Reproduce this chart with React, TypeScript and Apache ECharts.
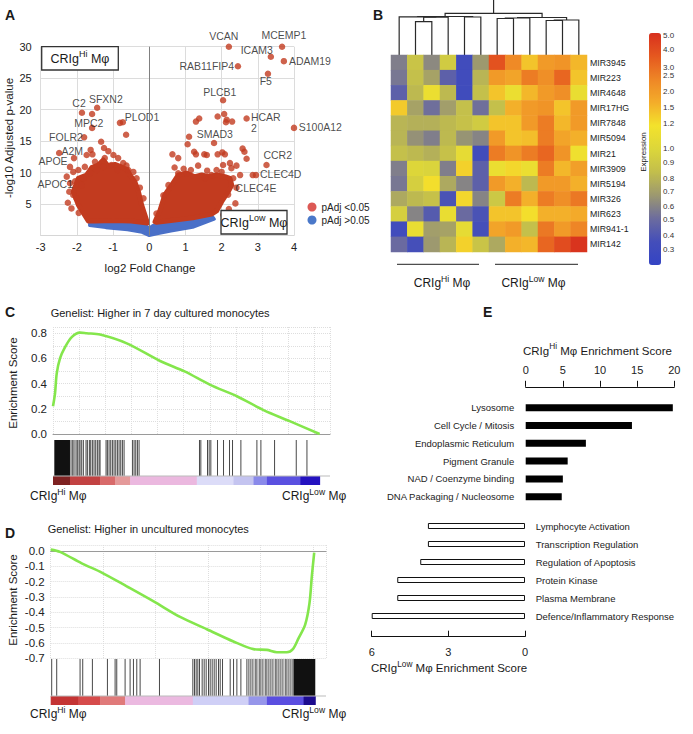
import React, { useEffect, useRef } from "react";
import * as echarts from "echarts";

const FONT = '"Liberation Sans", Arial, Helvetica, sans-serif';

// ---------------- Panel A : volcano ----------------
const volcanoRedPoints: number[][] = [
  [2.2, 30.0], [3.67, 30.0], [3.36, 28.4], [3.72, 27.7], [2.45, 26.9], [3.28, 25.7], [2.04, 21.5],
  [2.69, 18.6], [4.0, 17.1], [1.79, 14.7], [3.24, 11.2], [2.86, 9.6], [2.95, 9.6],
  [2.07, 19.3], [2.14, 18.4], [2.12, 18.0], [2.29, 18.1], [1.89, 18.9], [1.38, 18.6], [1.29, 18.1],
  [1.1, 15.7], [1.06, 14.5], [1.24, 13.3], [1.29, 12.9], [0.64, 12.9], [0.8, 12.3], [1.52, 12.9],
  [1.59, 12.8], [1.89, 12.9], [2.02, 13.2], [2.09, 12.9], [2.58, 13.8], [2.63, 13.3], [2.69, 12.2],
  [2.51, 9.6], [2.38, 5.1], [2.23, 11.5], [2.27, 10.7], [2.04, 11.2], [1.86, 10.4], [1.35, 11.1],
  [0.8, 9.9], [1.03, 9.8], [0.53, 8.0], [0.39, 6.4], [0.2, 3.5], [2.32, 9.1], [2.41, 7.6],
  [2.18, 6.5], [1.72, 9.6], [1.54, 9.1], [2.41, 11.1], [2.2, 4.2], [2.05, 3.3], [0.95, 10.6],
  [1.6, 10.3], [2.0, 10.1], [0.7, 10.8], [1.15, 10.4],
  [-1.86, 19.5], [-1.44, 20.3], [-1.58, 19.3], [-1.58, 17.1], [-0.81, 17.9], [-0.73, 18.0],
  [-0.64, 16.0], [-1.8, 15.6], [-1.33, 14.9], [-1.62, 13.6], [-1.25, 13.9], [-2.49, 13.1],
  [-2.08, 12.3], [-2.19, 10.9], [-1.73, 12.8], [-1.57, 12.9], [-1.13, 13.4], [-0.99, 12.8],
  [-0.86, 12.3], [-0.72, 11.5], [-0.63, 11.1], [-1.23, 12.3], [-1.37, 11.2], [-1.05, 11.2],
  [-1.5, 11.7], [-2.1, 10.1], [-1.96, 10.4], [-1.78, 10.9], [-2.28, 9.35], [-2.19, 8.3],
  [-2.05, 8.6], [-2.21, 6.96], [-2.1, 6.44], [-2.01, 5.9], [-1.87, 8.0], [-0.44, 10.1],
  [-0.35, 9.1], [-0.26, 7.6], [-0.16, 5.9], [-1.82, 9.1], [-1.63, 9.9], [-1.45, 10.4],
  [-1.27, 10.9], [-0.87, 10.4], [-0.58, 10.4], [-2.25, 5.2], [-2.15, 4.3], [-1.95, 3.6],
];
const volcanoLeftCloud: number[][] = [
  [-1.685, 2.3], [-1.96, 4.85], [-2.1, 6.96], [-1.96, 9.09], [-1.73, 9.61], [-1.59, 10.8],
  [-1.41, 11.2], [-1.27, 12.0], [-1.13, 11.0], [-0.95, 11.3], [-0.81, 11.0], [-0.62, 10.5],
  [-0.53, 9.6], [-0.4, 8.55], [-0.3, 6.96], [-0.21, 4.85], [-0.12, 3.26], [-0.05, 2.0],
  [-0.5, 2.3], [-1.0, 2.4], [-1.5, 2.3],
];
const volcanoRightCloud: number[][] = [
  [0.16, 2.2], [0.3, 4.05], [0.43, 6.44], [0.62, 8.02], [0.8, 9.61], [1.03, 9.88], [1.26, 9.34],
  [1.45, 9.61], [1.63, 9.34], [1.86, 9.61], [2.09, 9.34], [2.23, 9.09], [2.28, 8.02], [2.18, 6.96],
  [2.0, 5.37], [1.86, 3.9], [1.72, 3.4], [1.2, 2.8], [0.6, 2.4], [0.2, 2.1],
];
const volcanoBlueBand: number[][] = [
  [-1.65, 1.9], [-1.0, 2.0], [-0.4, 1.95], [-0.1, 1.6], [0.0, 1.2], [0.1, 1.6], [0.5, 2.0],
  [1.2, 2.4], [1.75, 3.0], [1.8, 2.6], [1.2, 1.3], [0.6, 0.7], [0.25, 0.3], [0.0, 0.0],
  [-0.2, 0.5], [-0.6, 0.9], [-1.2, 1.25], [-1.65, 1.6],
];
// gene label annotations: [text, x, y, align]
const geneLabels: [string, number, number, string][] = [
  ["VCAN", 2.06, 31.7, "center"], ["MCEMP1", 3.72, 31.9, "center"], ["ICAM3", 2.97, 29.5, "center"],
  ["ADAM19", 3.86, 27.7, "left"], ["RAB11FIP4", 1.59, 26.9, "center"], ["F5", 3.22, 24.5, "center"],
  ["PLCB1", 1.95, 22.8, "center"], ["HCAR\n2", 2.81, 18.0, "left"], ["S100A12", 4.13, 17.2, "left"],
  ["SMAD3", 1.81, 16.1, "center"], ["CCR2", 3.55, 12.8, "center"], ["CLEC4D", 3.06, 9.8, "left"],
  ["CLEC4E", 2.95, 7.5, "center"], ["C2", -1.94, 21.1, "center"], ["SFXN2", -1.2, 21.7, "center"],
  ["MPC2", -1.67, 17.9, "center"], ["PLOD1", -0.2, 18.8, "center"], ["FOLR2", -2.3, 15.6, "center"],
  ["A2M", -2.13, 13.4, "center"], ["APOE", -2.66, 11.8, "center"], ["APOC1", -2.6, 8.2, "center"],
];

// ---------------- Panel B : heatmap ----------------
const sampleIds = ["S1", "S2", "S3", "S4", "S5", "S6", "S7", "S8", "S9", "S10", "S11", "S12"];
const mirnaRows = ["MIR3945", "MIR223", "MIR4648", "MIR17HG", "MIR7848", "MIR5094", "MIR21",
  "MIR3909", "MIR5194", "MIR326", "MIR623", "MIR941-1", "MIR142"];
const heatValues: number[][] = [
  [0.58, 0.88, 0.62, 0.92, 0.33, 0.68, 3.8, 2.3, 1.4, 2.0, 2.1, 1.5],
  [0.55, 0.85, 0.72, 0.45, 0.33, 0.8, 2.0, 1.8, 2.6, 2.2, 3.2, 1.4],
  [0.45, 0.82, 1.12, 0.82, 0.32, 0.85, 1.4, 1.12, 1.5, 2.0, 2.2, 1.1],
  [1.35, 0.72, 0.52, 0.7, 0.85, 0.52, 0.85, 1.6, 2.0, 2.1, 1.4, 2.0],
  [0.8, 0.78, 0.78, 0.82, 0.86, 0.92, 1.4, 1.4, 2.0, 2.6, 1.5, 2.0],
  [0.8, 0.65, 0.58, 0.82, 0.66, 0.6, 2.0, 1.4, 1.45, 2.6, 1.8, 1.6],
  [0.85, 0.82, 0.78, 0.86, 1.08, 0.33, 2.6, 2.1, 2.6, 3.2, 2.1, 1.15],
  [0.58, 1.0, 0.98, 0.58, 1.3, 0.45, 1.12, 1.25, 1.12, 2.6, 1.5, 1.9],
  [0.55, 0.95, 1.2, 0.75, 0.6, 0.45, 2.0, 1.6, 0.82, 2.0, 2.0, 1.6],
  [0.75, 0.82, 0.86, 0.38, 1.25, 0.6, 0.9, 2.6, 1.6, 2.6, 2.2, 2.7],
  [0.95, 0.6, 0.42, 1.1, 0.5, 0.38, 1.4, 1.4, 1.2, 1.6, 1.6, 1.7],
  [0.33, 1.1, 0.7, 0.72, 1.08, 0.36, 1.8, 2.0, 0.85, 2.7, 2.0, 2.4],
  [0.5, 0.36, 0.68, 0.8, 1.3, 0.88, 0.75, 1.6, 1.5, 3.2, 4.0, 5.0],
];
const colorbarTicks = [5.0, 4.0, 3.0, 2.5, 2.0, 1.5, 1.2, 1.0, 0.9, 0.8, 0.7, 0.6, 0.5, 0.4, 0.3];
const colorbarTickFrac = [0.991, 0.931, 0.853, 0.815, 0.75, 0.681, 0.608, 0.504, 0.44, 0.375, 0.315,
  0.254, 0.194, 0.129, 0.065];
const colorbarColors = ["#3444c4", "#444eba", "#6c6c9e", "#9c9870", "#c2be4c", "#dcd63a",
  "#f3e22c", "#f3ad2a", "#ee8626", "#e5581f", "#d8301e"];
// hierarchical merges: [childA, childB, height]; negative = leaf (1-based), positive = merge (1-based)
const dendroMerges: number[][] = [
  [-2, -3, 33.3], [1, -4, 37.8], [-1, 2, 38.2], [-5, -6, 38.0], [3, 4, 38.5],
  [-7, -8, 36.5], [6, -9, 37.0], [-10, -11, 34.5], [8, -12, 35.0], [7, 9, 37.5], [5, 10, 41.7],
];

// ---------------- Panel C ----------------
const curveC: number[][] = [
  [0, 0.22], [153, 0.32], [284, 0.48], [536, 0.6], [920, 0.69], [1433, 0.77], [2069, 0.805],
  [2582, 0.8], [3602, 0.79], [5648, 0.72], [8199, 0.58], [10115, 0.495], [12031, 0.39],
  [14077, 0.3], [16115, 0.19], [18161, 0.1], [20406, 0.0],
];
const rugC = [1379, 1507, 1609, 1762, 1864, 1992, 2069, 2196, 2324, 2528, 2631, 2784, 2886, 3014,
  3141, 3269, 3397, 3525, 3601, 4061, 4163, 4291, 4418, 4546, 4674, 4802, 4929, 5057, 5185, 5312,
  5440, 6079, 6206, 6334, 6462, 6589, 11212, 11314, 11825, 11953, 12080, 12591, 13051, 13510,
  13740, 14379, 15605, 15911, 16958, 18618, 19436];
const rugBlocksC: number[][] = [[100, 1300]];
const stripC: number[][] = [[0, 1303], [1303, 3601], [3601, 4750], [4750, 5900], [5900, 11007],
  [11007, 13817], [13817, 15350], [15350, 16371], [16371, 18925], [18925, 20406]];
const stripColorsC = ["#7e2222", "#c24242", "#d86a6a", "#e49a9a", "#ebb8df", "#dcdcf8", "#c4c4f0",
  "#8a8aea", "#5a50e0", "#2412c0"];

// ---------------- Panel D ----------------
const curveD: number[][] = [
  [0, 0.01], [710, -0.005], [2366, -0.08], [3893, -0.14], [5802, -0.23], [7886, -0.33],
  [9870, -0.43], [11908, -0.51], [13939, -0.59], [15466, -0.64], [16489, -0.645], [17252, -0.66],
  [18015, -0.66], [18473, -0.64], [18901, -0.57], [19412, -0.48], [19740, -0.34], [19924, -0.16],
  [20100, -0.01],
];
const rugD = [76, 458, 2240, 2443, 3181, 4327, 4912, 5039, 5675, 6057, 6312, 6566, 6821, 8297,
  10842, 10969, 11096, 11224, 11351, 11554, 11707, 11860, 12038, 12165, 12318, 12471, 12623, 12801,
  12929, 13107, 13692, 13947, 14201, 14507, 14965, 15117, 15270, 15423, 15601, 15728, 15906, 16034,
  16186, 16364, 16491, 16644, 16797, 16950, 17128, 17255, 17407, 17560, 17713, 17891, 18018, 18171,
  18324, 18476];
const rugBlocksD: number[][] = [[18527, 20182]];
const stripD: number[][] = [[0, 2112], [2112, 3767], [3767, 5675], [5675, 10842], [10842, 15092],
  [15092, 16491], [16491, 19291], [19291, 20182]];
const stripColorsD = ["#c43434", "#d64b4b", "#e07a7a", "#ebb9e0", "#cfcff6", "#9696ea", "#5a4ee0",
  "#1c0b8e"];

// ---------------- Panel E ----------------
const hiTerms = ["Lysosome", "Cell Cycle / Mitosis", "Endoplasmic Reticulum", "Pigment Granule",
  "NAD / Coenzyme binding", "DNA Packaging / Nucleosome"];
const hiScores = [19.8, 14.3, 8.1, 5.65, 5.0, 4.85];
const lowTerms = ["Lymphocyte Activation", "Transcription Regulation", "Regulation of Apoptosis",
  "Protein Kinase", "Plasma Membrane", "Defence/Inflammatory Response"];
const lowScores = [3.8, 3.8, 4.1, 5.0, 5.0, 6.0];

// ---------------- helpers ----------------
function exprToFrac(v: number) {
  const t = colorbarTicks, f = colorbarTickFrac;
  if (v >= t[0]) return f[0];
  for (let i = 0; i < t.length - 1; i++) {
    if (v <= t[i] && v >= t[i + 1]) {
      return f[i + 1] + ((v - t[i + 1]) / (t[i] - t[i + 1])) * (f[i] - f[i + 1]);
    }
  }
  const n = t.length - 1;
  const slope = (f[n - 1] - f[n]) / (t[n - 1] - t[n]);
  return Math.max(0, f[n] - (t[n] - v) * slope);
}

function dendroSegments() {
  const pos: number[][] = [];
  const segs: number[][] = [];
  const get = (id: number) => (id < 0 ? [-id - 0.5, 0] : pos[id - 1]);
  dendroMerges.forEach(([a, b, h]) => {
    const pa = get(a), pb = get(b);
    segs.push([pa[0], pa[1], pb[0], pb[1], h]);
    pos.push([(pa[0] + pb[0]) / 2, h]);
  });
  const root = pos[pos.length - 1];
  segs.push([root[0], root[1], root[0], root[1], 55]);
  return segs;
}

function supRich(fs: number) {
  return {
    b: { fontSize: fs, fontFamily: FONT, fill: "#1a1a1a", lineHeight: fs + 6, verticalAlign: "middle" },
    s: { fontSize: Math.round(fs * 7.2) / 10, fontFamily: FONT, fill: "#1a1a1a", verticalAlign: "top" },
  };
}
function supText(base: string, sup: string, tail: string) {
  return `{b|${base}}{s|${sup}}{b|${tail}}`;
}

function gText(x: number, y: number, text: string, fs: number, o: any = {}) {
  return {
    type: "text", x, y, silent: true, rotation: o.rot || 0, z: 50,
    style: {
      text, fontSize: fs, fontFamily: FONT, fill: o.color || "#1a1a1a",
      fontWeight: o.bold ? "bold" : "normal",
      align: o.align || "left", verticalAlign: o.v || "middle",
      textAlign: o.align || "left", textVerticalAlign: o.v || "middle",
      rich: o.rich,
    },
  };
}
function gLine(x1: number, y1: number, x2: number, y2: number, color = "#222", w = 1) {
  return { type: "line", silent: true, z: 50, shape: { x1, y1, x2, y2 }, style: { stroke: color, lineWidth: w } };
}

function polygonSeries(name: string, pts: number[][], color: string, z: number, stroke: number) {
  return {
    type: "custom", name, xAxisIndex: 0, yAxisIndex: 0, z, clip: false, silent: true,
    itemStyle: { color },
    data: pts,
    renderItem: (params: any, api: any) => {
      if (params.dataIndex !== 0) return null;
      const points = pts.map((p) => api.coord(p));
      return {
        type: "polygon", shape: { points },
        style: { fill: color, stroke: color, lineWidth: stroke, lineJoin: "round" },
      };
    },
  };
}

function rugSeries(ax: number, ranks: number[], top: number) {
  return {
    type: "custom", xAxisIndex: ax, yAxisIndex: ax, silent: true, z: 3,
    data: ranks.map((r) => [r, 0]),
    renderItem: (params: any, api: any) => {
      const x = api.value(0);
      const a = api.coord([x, top]);
      const b = api.coord([x, 9]);
      return { type: "line", shape: { x1: a[0], y1: a[1], x2: b[0], y2: b[1] }, style: { stroke: "#1a1a1a", lineWidth: 1, opacity: 0.8 } };
    },
  };
}
function blockSeries(ax: number, blocks: number[][], top: number) {
  return {
    type: "custom", xAxisIndex: ax, yAxisIndex: ax, silent: true, z: 3,
    data: blocks,
    renderItem: (params: any, api: any) => {
      const a = api.coord([api.value(0), top]);
      const b = api.coord([api.value(1), 9]);
      return { type: "rect", shape: { x: a[0], y: a[1], width: b[0] - a[0], height: b[1] - a[1] }, style: { fill: "#111" } };
    },
  };
}
function stripSeries(ax: number, segs: number[][], colors: string[]) {
  return {
    type: "custom", xAxisIndex: ax, yAxisIndex: ax, silent: true, z: 2,
    data: segs,
    renderItem: (params: any, api: any) => {
      const a = api.coord([api.value(0), 9]);
      const b = api.coord([api.value(1), 0]);
      return { type: "rect", shape: { x: a[0], y: a[1], width: b[0] - a[0] + 0.5, height: b[1] - a[1] }, style: { fill: colors[params.dataIndex] } };
    },
  };
}

const hidden = { show: false };

function buildOption() {
  const heatData: number[][] = [];
  heatValues.forEach((row, r) => row.forEach((v, c) => heatData.push([c, r, exprToFrac(v)])));
  const segs = dendroSegments();
  const dotted = { show: true, lineStyle: { color: "#dedede", type: "dotted", width: 1 } };

  const series: any[] = [];
  series.push(polygonSeries("pAdj >0.05", volcanoBlueBand, "#4a70c8", 1, 3));
  series.push(polygonSeries("leftCloud", volcanoLeftCloud, "#c23b1f", 2, 5));
  series.push(polygonSeries("rightCloud", volcanoRightCloud, "#c23b1f", 2, 5));
  series.push({
    type: "scatter", name: "pAdj <0.05", xAxisIndex: 0, yAxisIndex: 0, z: 3, clip: false, silent: true,
    symbolSize: 6.5, itemStyle: { color: "#c23b1f" }, data: volcanoRedPoints,
    markLine: {
      silent: true, symbol: "none", label: { show: false },
      lineStyle: { color: "#808080", width: 1, type: "solid" }, data: [{ xAxis: 0 }],
    },
  });
  series.push({
    type: "scatter", xAxisIndex: 0, yAxisIndex: 0, z: 4, clip: false, silent: true, symbolSize: 0,
    data: geneLabels.map(([t, x, y, al]) => ({ value: [x, y], name: t, label: { align: al } })),
    label: {
      show: true, position: "inside", formatter: (p: any) => p.name, fontSize: 10.5,
      lineHeight: 11, color: "#1a1a1a", fontFamily: FONT,
    },
  });
  // dendrogram
  series.push({
    type: "custom", xAxisIndex: 1, yAxisIndex: 1, silent: true, clip: false, data: segs,
    renderItem: (params: any, api: any) => {
      const [x1, h1, x2, h2, hn] = [api.value(0), api.value(1), api.value(2), api.value(3), api.value(4)];
      const pts = [api.coord([x1, h1]), api.coord([x1, hn]), api.coord([x2, hn]), api.coord([x2, h2])];
      return { type: "polyline", shape: { points: pts }, style: { stroke: "#2a2a2a", lineWidth: 1.2, fill: null } };
    },
  });
  const heatIdx = series.length;
  series.push({
    type: "heatmap", xAxisIndex: 2, yAxisIndex: 2, data: heatData, silent: true,
    itemStyle: { borderWidth: 0 }, emphasis: { disabled: true },
  });
  // C
  series.push({
    type: "line", xAxisIndex: 3, yAxisIndex: 3, data: curveC, showSymbol: false, smooth: 0.3,
    clip: false, silent: true, lineStyle: { color: "#84e64c", width: 2.6 },
  });
  series.push(stripSeries(4, stripC, stripColorsC));
  series.push(blockSeries(4, rugBlocksC, 45));
  series.push(rugSeries(4, rugC, 45));
  // D
  series.push({
    type: "line", xAxisIndex: 5, yAxisIndex: 5, data: curveD, showSymbol: false, smooth: 0.3,
    clip: false, silent: true, lineStyle: { color: "#84e64c", width: 2.6 },
  });
  series.push(stripSeries(6, stripD, stripColorsD));
  series.push(blockSeries(6, rugBlocksD, 46));
  series.push(rugSeries(6, rugD, 46));
  // E
  series.push({
    type: "bar", xAxisIndex: 7, yAxisIndex: 7, data: hiScores, barWidth: 7, silent: true,
    itemStyle: { color: "#000" },
  });
  series.push({
    type: "bar", xAxisIndex: 8, yAxisIndex: 8, data: lowScores, barWidth: 6, silent: true,
    itemStyle: { color: "#fff", borderColor: "#111", borderWidth: 1 },
  });

  const axLabel = (fs: number, margin: number, extra: any = {}) => ({
    fontSize: fs, margin, color: "#222", fontFamily: FONT, ...extra,
  });

  const xAxis: any[] = [
    {
      gridIndex: 0, type: "value", min: -3, max: 4, interval: 1,
      axisLine: { show: true, onZero: false, lineStyle: { color: "#d6d6d6" } }, axisTick: hidden,
      axisLabel: axLabel(11, 6), splitLine: { show: true, lineStyle: { color: "#dcdcdc" } },
    },
    { gridIndex: 1, type: "value", min: 0, max: 12, show: false },
    { gridIndex: 2, type: "category", data: sampleIds, show: false },
    {
      gridIndex: 3, type: "value", min: 0, max: 21200, interval: 2000,
      axisLine: { show: true, onZero: false, lineStyle: { color: "#9a9a9a" } }, axisTick: hidden,
      axisLabel: hidden, splitLine: dotted,
    },
    { gridIndex: 4, type: "value", min: 0, max: 21200, show: false },
    {
      gridIndex: 5, type: "value", min: 0, max: 21000, interval: 4000,
      axisLine: { show: true, onZero: true, lineStyle: { color: "#9a9a9a" } }, axisTick: hidden,
      axisLabel: hidden, splitLine: dotted,
    },
    { gridIndex: 6, type: "value", min: 0, max: 21000, show: false },
    {
      gridIndex: 7, type: "value", position: "top", min: 0, max: 20, interval: 5, offset: 12,
      axisLine: { show: true, onZero: false, lineStyle: { color: "#111", width: 1 } },
      axisTick: { show: true, length: 6, lineStyle: { color: "#111" } },
      axisLabel: axLabel(11, 11), splitLine: hidden,
    },
    {
      gridIndex: 8, type: "value", position: "bottom", inverse: true, min: 0, max: 6, interval: 3,
      offset: 11.7, axisLine: { show: true, onZero: false, lineStyle: { color: "#111", width: 1 } },
      axisTick: { show: true, inside: true, length: 6, lineStyle: { color: "#111" } },
      axisLabel: axLabel(11, 9.5), splitLine: hidden,
    },
  ];
  const yAxis: any[] = [
    {
      gridIndex: 0, type: "value", min: 0, max: 30, interval: 5, axisLine: hidden, axisTick: hidden,
      axisLabel: axLabel(11, 9, { formatter: (v: number) => (v === 0 ? "" : String(v)) }),
      splitLine: { show: true, lineStyle: { color: "#dcdcdc" } },
    },
    { gridIndex: 1, type: "value", min: 0, max: 55, show: false },
    {
      gridIndex: 2, type: "category", data: mirnaRows, inverse: true, position: "right",
      axisLine: hidden, axisTick: hidden, axisLabel: axLabel(8.8, 3), splitLine: hidden,
    },
    {
      gridIndex: 3, type: "value", min: 0, max: 0.85, interval: 0.1, axisLine: hidden, axisTick: hidden,
      axisLabel: axLabel(11.5, 6, {
        formatter: (v: number) => (Math.round(v * 10) % 2 === 0 && v <= 0.8001 ? v.toFixed(1) : ""),
      }),
      splitLine: dotted,
    },
    { gridIndex: 4, type: "value", min: 0, max: 45, show: false },
    {
      gridIndex: 5, type: "value", min: -0.7, max: 0.04, interval: 0.1, axisLine: hidden, axisTick: hidden,
      axisLabel: axLabel(11.5, 6, {
        formatter: (v: number) => (v > 0.001 ? "" : Math.abs(v) < 1e-6 ? "0.0" : v.toFixed(1)),
      }),
      splitLine: dotted,
    },
    { gridIndex: 6, type: "value", min: 0, max: 46, show: false },
    {
      gridIndex: 7, type: "category", data: hiTerms, inverse: true, axisLine: hidden, axisTick: hidden,
      axisLabel: axLabel(9.5, 11.5),
    },
    {
      gridIndex: 8, type: "category", data: lowTerms, inverse: true, position: "right",
      axisLine: hidden, axisTick: hidden, axisLabel: axLabel(9.5, 10.7),
    },
  ];

  const graphic: any[] = [
    // panel letters
    gText(5, 15, "A", 14, { bold: true }),
    gText(373, 15, "B", 14, { bold: true }),
    gText(5, 312, "C", 14, { bold: true }),
    gText(5, 533, "D", 14, { bold: true }),
    gText(483, 312, "E", 14, { bold: true }),
    // A
    gText(9, 138, "-log10 Adjusted p-value", 11.5, { rot: Math.PI / 2, align: "center" }),
    gText(150, 268, "log2 Fold Change", 11.5, { align: "center" }),
    { type: "rect", z: 49, silent: true, shape: { x: 41.7, y: 46.7, width: 76.6, height: 23.3 }, style: { fill: "#fff", stroke: "#333", lineWidth: 1.3 } },
    gText(80, 58.5, supText("CRIg", "Hi", " Mφ"), 12.5, { align: "center", rich: supRich(12.5) }),
    { type: "rect", z: 49, silent: true, shape: { x: 221, y: 210.5, width: 66, height: 23.5 }, style: { fill: "#fff", stroke: "#333", lineWidth: 1.3 } },
    gText(254, 222.5, supText("CRIg", "Low", " Mφ"), 12.5, { align: "center", rich: supRich(12.5) }),
    // B
    gLine(397, 264.3, 479, 264.3),
    gLine(495, 264.3, 578, 264.3),
    gText(442, 283, supText("CRIg", "Hi", " Mφ"), 12, { align: "center", rich: supRich(12) }),
    gText(533.5, 283, supText("CRIg", "Low", " Mφ"), 12, { align: "center", rich: supRich(12) }),
    gText(643, 152, "Expression", 8, { rot: Math.PI / 2, align: "center" }),
    ...colorbarTicks.map((t, i) => gText(663, 265 - colorbarTickFrac[i] * 232, t.toFixed(1), 8, { color: "#333" })),
    // C
    gText(50.7, 312.7, "Genelist: Higher in 7 day cultured monocytes", 11),
    gText(13.3, 383, "Enrichment Score", 11.5, { rot: Math.PI / 2, align: "center" }),
    gLine(53, 476, 330, 476, "#bbbbbb", 1),
    gText(30, 496, supText("CRIg", "Hi", " Mφ"), 12, { rich: supRich(12) }),
    gText(282, 496, supText("CRIg", "Low", " Mφ"), 12, { rich: supRich(12) }),
    // D
    gText(47.7, 529.3, "Genelist: Higher in uncultured monocytes", 11),
    gText(13.3, 600, "Enrichment Score", 11.5, { rot: Math.PI / 2, align: "center" }),
    gLine(50.7, 696, 326, 696, "#bbbbbb", 1),
    gText(30, 714, supText("CRIg", "Hi", " Mφ"), 12, { rich: supRich(12) }),
    gText(282, 714, supText("CRIg", "Low", " Mφ"), 12, { rich: supRich(12) }),
    // E
    gText(523, 351, supText("CRIg", "Hi", " Mφ Enrichment Score"), 11.5, { rich: supRich(11.5) }),
    gText(371, 668.3, supText("CRIg", "Low", " Mφ Enrichment Score"), 11.5, { rich: supRich(11.5) }),
  ];

  return {
    animation: false,
    backgroundColor: "#ffffff",
    textStyle: { fontFamily: FONT },
    grid: [
      { left: 40.7, top: 46.7, width: 253.3, height: 188.8 },
      { left: 391, top: 0, width: 196, height: 55 },
      { left: 391, top: 55, width: 196, height: 197 },
      { left: 53, top: 327, width: 277, height: 107 },
      { left: 53, top: 440, width: 277, height: 45 },
      { left: 50.7, top: 545, width: 275.3, height: 113.3 },
      { left: 50.7, top: 659, width: 275.3, height: 46 },
      { left: 525.7, top: 398.8, width: 148.6, height: 106.8 },
      { left: 371.7, top: 517, width: 153.3, height: 108 },
    ],
    xAxis,
    yAxis,
    legend: {
      data: [
        { name: "pAdj <0.05", icon: "circle", itemStyle: { color: "#d32f2a" } },
        { name: "pAdj >0.05", icon: "circle", itemStyle: { color: "#4a78c9" } },
      ],
      left: 307.5, top: 202, orient: "vertical", itemWidth: 9, itemHeight: 9, itemGap: 3, padding: 0,
      selectedMode: false, textStyle: { fontSize: 10, fontFamily: FONT, color: "#222" },
    },
    visualMap: {
      type: "continuous", seriesIndex: heatIdx, dimension: 2, min: 0, max: 1,
      inRange: { color: colorbarColors }, left: 649, top: 33, itemWidth: 12, itemHeight: 232,
      calculable: false, padding: 0, text: null, hoverLink: false, orient: "vertical",
    },
    series,
    graphic,
  };
}

export default function App() {
  const ref = useRef<HTMLDivElement>(null);
  useEffect(() => {
    const chart = echarts.init(ref.current as HTMLDivElement, null, { renderer: "svg" });
    chart.setOption(buildOption() as any);
    return () => chart.dispose();
  }, []);
  return (
    <div
      ref={ref}
      style={{ position: "absolute", left: 0, top: 0, width: 693, height: 734, background: "#fff" }}
    />
  );
}
